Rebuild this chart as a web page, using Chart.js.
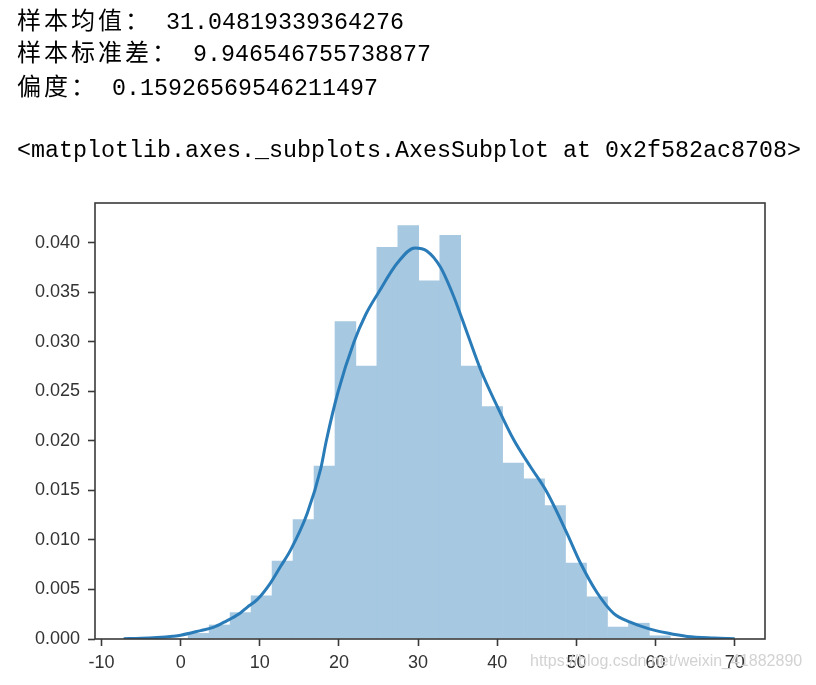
<!DOCTYPE html>
<html>
<head>
<meta charset="utf-8">
<script src="https://cdn.jsdelivr.net/npm/chart.js@4.4.1/dist/chart.umd.min.js"></script>
<style>
  html, body { margin: 0; padding: 0; background: #fff; }
  #wrap { position: relative; width: 816px; height: 685px; overflow: hidden; }
  #c { position: absolute; left: 0; top: 0; }
  .ln { position: absolute; left: 17px; white-space: pre; line-height: 32px; height: 32px; color: #000; }
  .cjk { font-family: "Noto Sans CJK SC", sans-serif; font-size: 24px; letter-spacing: 3px; }
  .lat { font-family: "Liberation Mono", monospace; font-size: 23.33px; }
  #wm { position: absolute; left: 530px; top: 652px; font-family: "Liberation Sans", sans-serif; font-size: 16px; color: #d2d2d2; white-space: pre; }
</style>
</head>
<body>
<div id="wrap">
  <canvas id="c" width="816" height="685"></canvas>
  <div class="ln" style="top:3px"><span class="cjk">样本均值：</span><span class="lat"> 31.04819339364276</span></div>
  <div class="ln" style="top:35px"><span class="cjk">样本标准差：</span><span class="lat"> 9.946546755738877</span></div>
  <div class="ln" style="top:69px"><span class="cjk">偏度：</span><span class="lat"> 0.15926569546211497</span></div>
  <div class="ln" style="top:135px"><span class="lat">&lt;matplotlib.axes._subplots.AxesSubplot at 0x2f582ac8708&gt;</span></div>
  <div id="wm">https://blog.csdn.net/weixin_41882890</div>
</div>
<script>
// Histogram (density)
const histCenters = [2.27, 4.92, 7.57, 10.22, 12.87, 15.52, 18.17, 20.82, 23.47, 26.11, 28.76, 31.41,
                     34.06, 36.71, 39.36, 42.01, 44.66, 47.31, 49.96, 52.61, 55.25, 57.90, 60.55];
const histDensity = [0.0006, 0.00145, 0.0027, 0.0044, 0.0079, 0.0121, 0.0175, 0.0321, 0.0276, 0.0396, 0.0418, 0.0362,
                     0.0408, 0.0276, 0.0235, 0.0178, 0.0162, 0.0135, 0.0077, 0.0043, 0.00124, 0.00163, 0.00036];

// KDE curve
const kdeX = [-7.2, -5, -3, -1, 0, 2.5, 4.2, 5.5, 7.5, 8.4, 9.7, 11.3, 12.6, 13.9, 16.0, 17.7, 18.4, 19.9, 21.9,
              23.4, 25.0, 27.4, 29.6, 31.1, 32.8, 34.5, 36.2, 37.9, 40.0, 42.1, 44.2, 46.3, 48.8, 50.5, 52.6, 54.7,
              56.8, 58.9, 61.5, 64.0, 67.4, 70.0];
const kdeY = [0.00003, 0.00007, 0.00015, 0.00028, 0.00038, 0.00085, 0.0012, 0.0017, 0.0026, 0.0032, 0.0040, 0.0056,
              0.0073, 0.0090, 0.0127, 0.0172, 0.0200, 0.0250, 0.0300, 0.0328, 0.0350, 0.0380, 0.0395, 0.0392, 0.0376,
              0.0346, 0.0309, 0.0272, 0.0235, 0.0201, 0.0174, 0.0148, 0.0107, 0.0077, 0.0047, 0.0026, 0.0017,
              0.0011, 0.0006, 0.00026, 0.0001, 0.00003];

// Axis ticks
const xTicks = [-10, 0, 10, 20, 30, 40, 50, 60, 70];
const xTickLabels = ['-10', '0', '10', '20', '30', '40', '50', '60', '70'];
const yTicks = [0, 0.005, 0.010, 0.015, 0.020, 0.025, 0.030, 0.035, 0.040];
const yTickLabels = ['0.000', '0.005', '0.010', '0.015', '0.020', '0.025', '0.030', '0.035', '0.040'];

const xMin = -10.82, xMax = 73.83, yMin = 0, yMax = 0.04404;

const frame = {
  id: 'frame',
  afterDatasetsDraw(chart) {
    const a = chart.chartArea, ctx = chart.ctx;
    ctx.save();
    ctx.strokeStyle = '#3a3a3a';
    ctx.lineWidth = 1.6;
    ctx.strokeRect(a.left, a.top, a.right - a.left, a.bottom - a.top);
    ctx.restore();
  }
};

const tickFont = { family: "'Liberation Sans', Arial, sans-serif", size: 18 };

new Chart(document.getElementById('c'), {
  type: 'bar',
  data: {
    datasets: [
      {
        type: 'line',
        data: kdeX.map((x, i) => ({ x: x, y: kdeY[i] })),
        borderColor: '#2a7cb8',
        borderWidth: 3,
        pointRadius: 0,
        fill: false,
        cubicInterpolationMode: 'monotone',
        order: 0
      },
      {
        type: 'bar',
        data: histCenters.map((x, i) => ({ x: x, y: histDensity[i] })),
        backgroundColor: '#a6c8e1',
        borderWidth: 0,
        barPercentage: 1.03,
        categoryPercentage: 1.0,
        order: 1
      }
    ]
  },
  options: {
    responsive: false,
    animation: false,
    devicePixelRatio: 1,
    layout: { padding: { left: 0, top: 203, right: 51, bottom: 0 } },
    plugins: { legend: { display: false }, tooltip: { enabled: false } },
    scales: {
      x: {
        type: 'linear',
        offset: false,
        min: xMin, max: xMax,
        afterFit: s => { s.height = 46; },
        afterBuildTicks: s => { s.ticks = xTicks.map(v => ({ value: v })); },
        border: { display: false },
        grid: { display: true, offset: false, drawOnChartArea: false, drawTicks: true, tickLength: 7, tickWidth: 1.6, tickColor: '#3a3a3a' },
        ticks: { font: tickFont, color: '#333', padding: 6, maxRotation: 0, autoSkip: false,
                 callback: (v, i) => xTickLabels[i] }
      },
      y: {
        type: 'linear',
        offset: false,
        min: yMin, max: yMax,
        afterFit: s => { s.width = 95; },
        afterBuildTicks: s => { s.ticks = yTicks.map(v => ({ value: v })); },
        border: { display: false },
        grid: { display: true, offset: false, drawOnChartArea: false, drawTicks: true, tickLength: 7, tickWidth: 1.6, tickColor: '#3a3a3a' },
        ticks: { font: tickFont, color: '#333', padding: 8, autoSkip: false,
                 callback: (v, i) => yTickLabels[i] }
      }
    }
  },
  plugins: [frame]
});
</script>
</body>
</html>
